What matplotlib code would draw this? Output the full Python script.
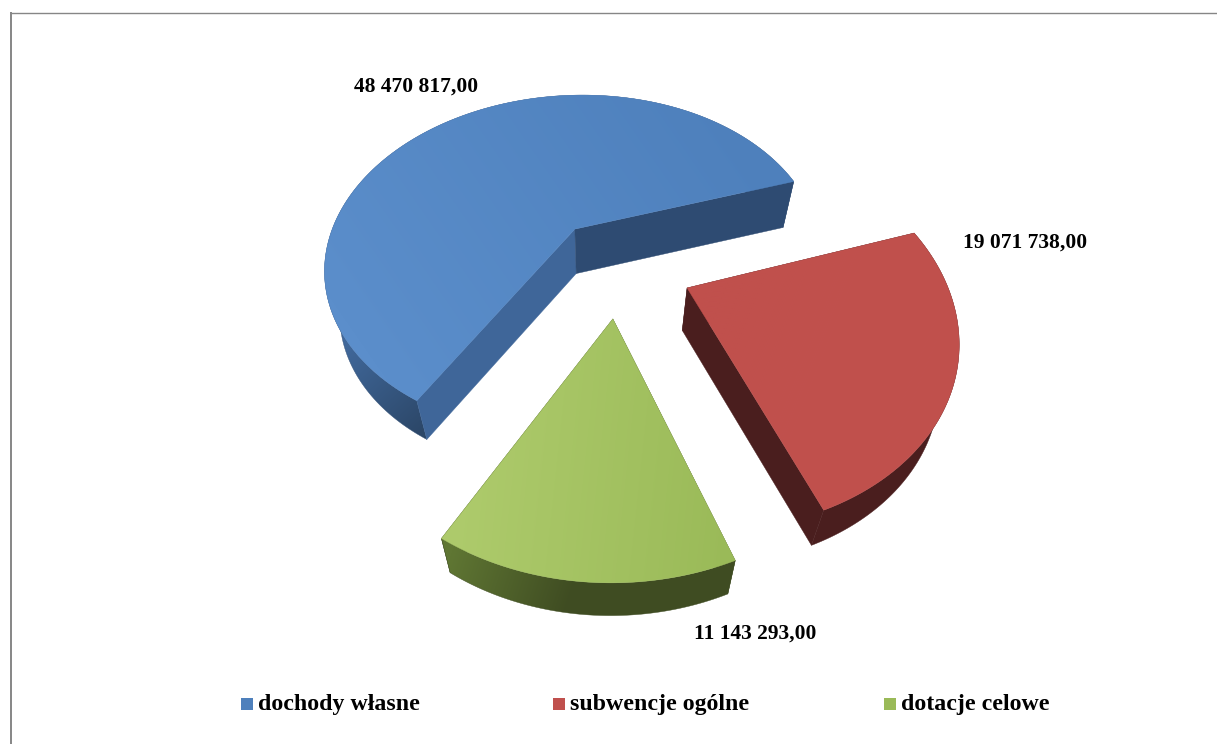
import numpy as np
import matplotlib
matplotlib.use('Agg')
import matplotlib.pyplot as plt
from matplotlib.patches import Polygon, Rectangle
from matplotlib.colors import to_rgb

# data
categorias = ['dochody własne', 'subwencje ogólne', 'dotacje celowe']
valores = [48470817.00, 19071738.00, 11143293.00]
cores_topo = [('#5B8ECB', '#4E80BC'), ('#C0504D', '#C0504D'), ('#AECB6C', '#9ABA58')]
cores_borda = [('#41699C', '#2C4768'), ('#4A1E1E', '#4A1E1E'), ('#5F7633', '#3F4C22')]
cores_corte = ['#3F6699', '#4A1E1E', '#3F4C22']
cores_corte2 = ['#2E4B72', '#4A1E1E', '#3F4C22']
z_corte = [3, 3, 1]
pos_rotulos = [(416, 85), (1025, 241), (755, 632)]
pos_legenda = [241, 553, 884]

# projection of the pie plane to pixels
ORIGEM = (619, 266)
ESCALA_X = 262
ESCALA_Y = 178
PERSPECTIVA = 0.22
EXPLOSAO = 0.28
RAIO_X = 0.97
ANGULO_INICIAL = 240.0


def projetar(u, v):
    w = 1 + PERSPECTIVA * v
    return np.column_stack([ORIGEM[0] + ESCALA_X * u / w, ORIGEM[1] - ESCALA_Y * v / w])


def extrudar(p):
    # bottom face of the slice
    p = np.atleast_2d(p)
    return np.column_stack([600 + 0.945 * (p[:, 0] - 600), p[:, 1] * 0.967 + 52])


def preencher(ax, pontos, c0, c1, p0, p1, z):
    # polygon with a linear gradient between the points p0 and p1
    poly = Polygon(pontos, closed=True, facecolor='none', edgecolor='none', transform=ax.transData)
    ax.add_patch(poly)
    x0, x1 = pontos[:, 0].min() - 2, pontos[:, 0].max() + 2
    y0, y1 = pontos[:, 1].min() - 2, pontos[:, 1].max() + 2
    xx, yy = np.meshgrid(np.arange(x0, x1, 1.0), np.arange(y0, y1, 1.0))
    d = np.array(p1, dtype=float) - np.array(p0, dtype=float)
    t = np.clip(((xx - p0[0]) * d[0] + (yy - p0[1]) * d[1]) / (d @ d), 0, 1)[..., None]
    img = (1 - t) * np.array(to_rgb(c0)) + t * np.array(to_rgb(c1))
    im = ax.imshow(img, extent=(x0, x1, y1, y0), zorder=z, interpolation='bilinear', aspect='auto')
    im.set_clip_path(poly)
    # thin outline hides the jagged clip edge
    ax.add_patch(Polygon(pontos, closed=True, facecolor='none', edgecolor=img[img.shape[0] // 2, img.shape[1] // 2],
                         linewidth=0.3, zorder=z))


fig = plt.figure(figsize=(12.17, 7.44), dpi=100)
ax = fig.add_axes([0, 0, 1, 1])

# gradient stops of each slice (screen coordinates)
grad_topo = [((400, 400), (760, 150)), ((700, 300), (950, 400)), ((450, 530), (730, 560))]
grad_borda = [((345, 340), (425, 430)), ((700, 300), (950, 400)), ((450, 560), (570, 600))]

total = sum(valores)
inicio = ANGULO_INICIAL
# clockwise, like the source chart
for i, valor in enumerate(valores):
    fim = inicio - valor / total * 360
    meio = np.radians((inicio + fim) / 2)
    ox, oy = EXPLOSAO * np.cos(meio), EXPLOSAO * np.sin(meio)
    ang = np.radians(np.linspace(inicio, fim, 200))
    arco = projetar(ox + RAIO_X * np.cos(ang), oy + np.sin(ang))
    apice = projetar(np.array([ox]), np.array([oy]))
    arco_b = extrudar(arco)
    apice_b = extrudar(apice)

    # rim and cut faces, the top goes over them
    borda = np.vstack([arco, arco_b[::-1]])
    preencher(ax, borda, cores_borda[i][0], cores_borda[i][1], grad_borda[i][0], grad_borda[i][1], 2)
    corte1 = np.vstack([apice, arco[0], arco_b[0], apice_b])
    corte2 = np.vstack([apice, arco[-1], arco_b[-1], apice_b])
    ax.add_patch(Polygon(corte1, closed=True, facecolor=cores_corte[i], edgecolor=cores_corte[i], lw=0.3, zorder=z_corte[i]))
    ax.add_patch(Polygon(corte2, closed=True, facecolor=cores_corte2[i], edgecolor=cores_corte2[i], lw=0.3, zorder=z_corte[i]))
    topo = np.vstack([apice, arco])
    preencher(ax, topo, cores_topo[i][0], cores_topo[i][1], grad_topo[i][0], grad_topo[i][1], 4)

    # value label
    rotulo = f'{valor:,.2f}'.replace(',', ' ').replace('.', ',')
    ax.text(pos_rotulos[i][0], pos_rotulos[i][1] + 1.5, rotulo, family='Liberation Serif', weight='bold',
            fontsize=15.5, color='black', ha='center', va='center', zorder=5)

    # legend
    ax.add_patch(Rectangle((pos_legenda[i], 698), 12, 12, facecolor=cores_topo[i][1], edgecolor='none', zorder=5))
    ax.text(pos_legenda[i] + 17, 704.5, categorias[i], family='Liberation Serif', weight='bold',
            fontsize=17.2, color='black', ha='left', va='center', zorder=5)

    inicio = fim

# chart frame: only the top and left lines are visible
ax.plot([10.5, 1217], [12.5, 12.5], color='#868686', lw=1.0, zorder=6, solid_capstyle='butt')
ax.plot([10.5, 10.5], [12, 744], color='#868686', lw=1.4, zorder=6, solid_capstyle='butt')

ax.set_xlim(0, 1217)
ax.set_ylim(744, 0)
ax.axis('off')
fig.savefig('out.png', dpi=100)
